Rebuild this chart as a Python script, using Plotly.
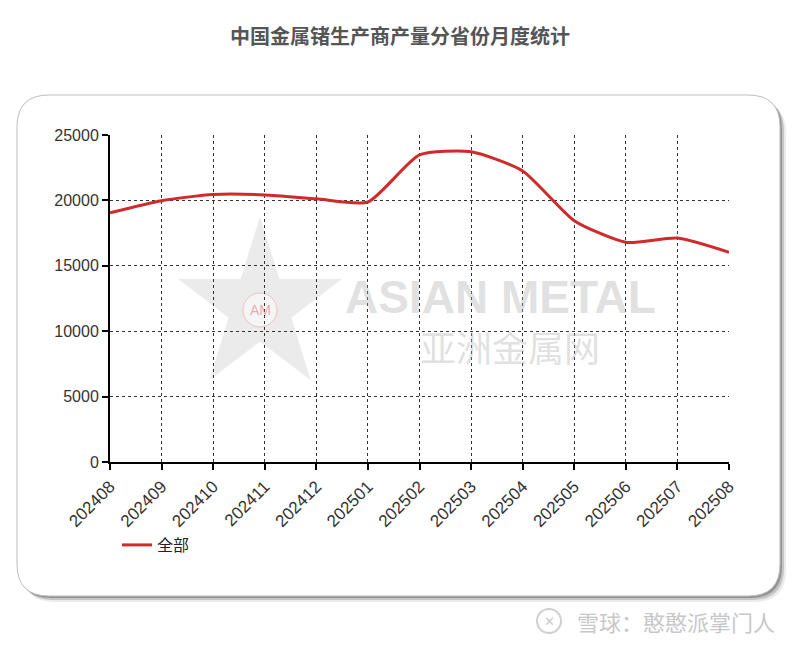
import math
import plotly.graph_objects as go

months = ["202408", "202409", "202410", "202411", "202412", "202501", "202502",
          "202503", "202504", "202505", "202506", "202507", "202508"]
output_all = [19050, 19980, 20450, 20420, 20120, 19880, 23480,
              23720, 22250, 18450, 16800, 17120, 16030]
series_name = "全部"
title_text = "中国金属锗生产商产量分省份月度统计"
y_ticks = [0, 5000, 10000, 15000, 20000, 25000]

W, H = 800, 645
OFF = 8  # page body margin
L, R, T, B = 110, 729, 135, 462  # plot area in screen pixels


def px(x):
    return (x - L) / (R - L)


def py(y):
    return (B - y) / (B - T)


def rounded_rect(x0, y0, x1, y1, r):
    pts = [
        f"M {px(x0 + r)},{py(y0)}",
        f"L {px(x1 - r)},{py(y0)}",
        f"Q {px(x1)},{py(y0)} {px(x1)},{py(y0 + r)}",
        f"L {px(x1)},{py(y1 - r)}",
        f"Q {px(x1)},{py(y1)} {px(x1 - r)},{py(y1)}",
        f"L {px(x0 + r)},{py(y1)}",
        f"Q {px(x0)},{py(y1)} {px(x0)},{py(y1 - r)}",
        f"L {px(x0)},{py(y0 + r)}",
        f"Q {px(x0)},{py(y0)} {px(x0 + r)},{py(y0)}",
        "Z",
    ]
    return " ".join(pts)


def star_path(cx, cy, ro, ri):
    pts = []
    for i in range(10):
        ang = -math.pi / 2 + i * math.pi / 5
        rr = ro if i % 2 == 0 else ri
        pts.append((cx + rr * math.cos(ang), cy + rr * math.sin(ang) * 1.05))
    return "M " + " L ".join(f"{px(x)},{py(y)}" for x, y in pts) + " Z"


shapes = []
for off, col in [(6, "rgba(0,0,0,0.08)"), (4, "rgba(0,0,0,0.16)"), (2, "rgba(0,0,0,0.25)")]:
    shapes.append(dict(type="path", xref="paper", yref="paper", layer="below",
                       path=rounded_rect(17 + off, 95 + off, 780 + off, 596 + off, 32),
                       fillcolor=col, line=dict(width=0)))
shapes.append(dict(type="path", xref="paper", yref="paper", layer="below",
                   path=rounded_rect(17, 95, 780, 596, 32),
                   fillcolor="white", line=dict(color="#bdbdbd", width=1)))
shapes.append(dict(type="path", xref="paper", yref="paper", layer="below",
                   path=star_path(260, 307, 86, 33),
                   fillcolor="rgba(190,190,190,0.30)", line=dict(width=0)))
shapes.append(dict(type="circle", xref="paper", yref="paper", layer="below",
                   x0=px(243), x1=px(277), y0=py(293), y1=py(327),
                   fillcolor="rgba(255,255,255,0.5)", line=dict(color="rgba(230,150,150,0.5)", width=1)))
shapes.append(dict(type="circle", xref="paper", yref="paper", layer="below",
                   x0=px(537), x1=px(561), y0=py(609), y1=py(633),
                   fillcolor="rgba(0,0,0,0)", line=dict(color="#cfcfcf", width=2)))


def ann(text, x, y, size, color, family="Noto Sans CJK SC", xanchor="center"):
    return dict(text=text, x=px(x), y=py(y), xref="paper", yref="paper", showarrow=False,
                xanchor=xanchor, yanchor="middle",
                font=dict(family=family, size=size, color=color))


annotations = [
    ann("AM", 260, 310, 14, "rgba(220,120,120,0.6)", "Liberation Sans"),
    ann("<b>ASIAN METAL</b>", 500, 297, 46, "rgba(175,175,175,0.40)", "Liberation Sans"),
    ann("亚洲金属网", 510, 346, 36, "rgba(175,175,175,0.40)"),
    ann("雪球：憨憨派掌门人", 777, 621, 22, "#c8c8c8", xanchor="right"),
    ann("✕", 549, 621, 13, "#c8c8c8", "DejaVu Sans"),
]

fig = go.Figure()
fig.add_trace(go.Scatter(
    x=list(range(len(months))), y=output_all, mode="lines", name=series_name,
    line=dict(color="#d02a2a", width=3, shape="spline", smoothing=0.6),
))

fig.update_layout(
    width=W, height=H,
    margin=dict(l=L - OFF, r=W - (R - OFF), t=T - OFF, b=H - (B - OFF)),
    paper_bgcolor="white", plot_bgcolor="rgba(0,0,0,0)",
    title=dict(text=f"<b>{title_text}</b>", x=px(400), xref="paper", xanchor="center",
               y=1 - (37 - OFF) / H, yanchor="middle",
               font=dict(family="Noto Sans CJK SC", size=20, color="#555555")),
    showlegend=True,
    legend=dict(orientation="h", x=px(117), y=py(528), xanchor="left", yanchor="top",
                font=dict(family="Noto Sans CJK SC", size=16, color="#222"),
                bgcolor="rgba(0,0,0,0)", itemwidth=30),
    shapes=shapes,
    annotations=annotations,
    xaxis=dict(
        range=[0, len(months) - 1], tickmode="array", tickvals=list(range(len(months))),
        ticktext=months, tickangle=-45, showgrid=True, gridcolor="#333", griddash="dot",
        gridwidth=1, showline=True, linecolor="black", linewidth=2, ticks="outside",
        ticklen=6, tickcolor="black", tickwidth=2, zeroline=False,
        tickfont=dict(family="Liberation Sans", size=17, color="#333"),
    ),
    yaxis=dict(
        range=[0, 25000], tickmode="array", tickvals=y_ticks, ticktext=[str(v) for v in y_ticks],
        showgrid=True, gridcolor="#333", griddash="dot", gridwidth=1,
        showline=True, linecolor="black", linewidth=2, ticks="outside", ticklen=6,
        tickcolor="black", tickwidth=2, zeroline=False,
        tickfont=dict(family="Liberation Sans", size=16, color="#333"),
    ),
)

fig.write_html("out.html")
